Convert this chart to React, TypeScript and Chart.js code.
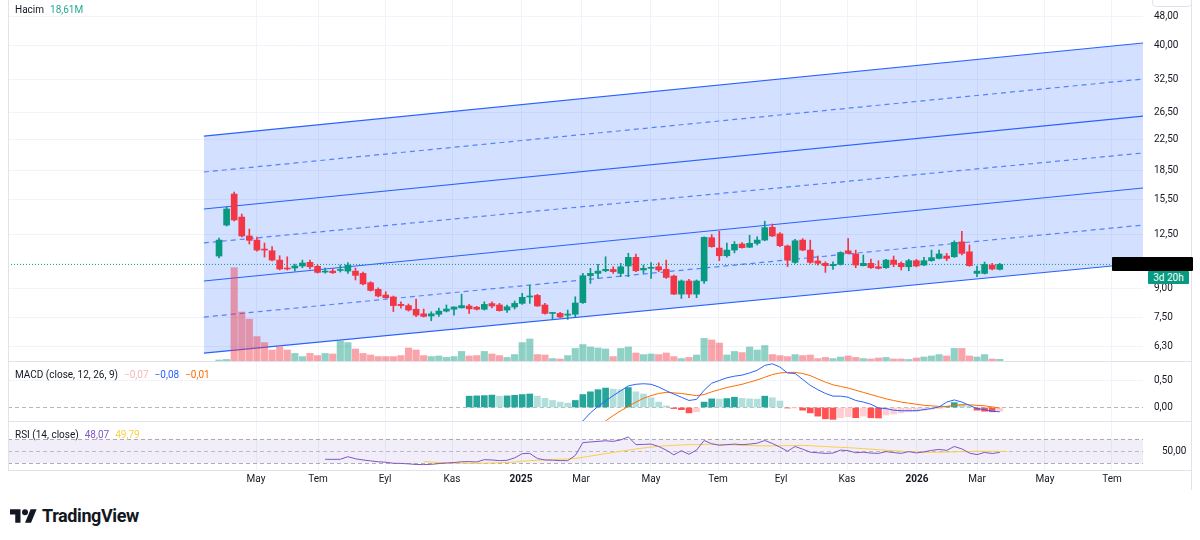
import React, { useEffect, useRef } from "react";
import { Chart, registerables } from "chart.js";

Chart.register(...registerables);

const FONT = "Roboto, 'Liberation Sans', Arial, sans-serif";
const TEXT = "#131722";
const UP = "#089981";
const DOWN = "#F23645";

// Weekly candles, index 0 = first bar (spring 2024)
const opens = [10.96,13.26,16.05,13.93,12.40,12.09,11.44,11.32,10.69,10.18,
10.18,10.31,10.54,10.29,9.93,9.99,10.03,9.99,9.99,9.85,
9.30,8.93,8.62,8.52,8.14,8.08,7.90,7.68,7.58,7.66,
7.81,7.90,7.97,8.06,8.00,7.90,8.18,8.11,7.86,8.01,
8.19,8.52,8.60,8.11,7.70,7.70,7.62,7.66,8.23,9.71,
9.85,10.01,10.09,9.85,10.31,10.87,10.06,10.16,10.26,10.10,
9.69,8.67,9.40,8.67,9.40,12.27,11.51,10.98,11.37,11.80,
11.57,11.85,12.09,13.08,12.56,11.66,10.54,12.09,11.37,10.63,
10.48,10.33,10.41,11.32,11.10,10.33,10.48,10.26,10.20,10.69,
10.48,10.26,10.65,10.37,10.65,10.80,10.96,10.91,11.96,11.25,
9.85,9.85,10.37,10.10];
const highs = [12.24,14.82,16.25,14.19,12.94,12.32,11.87,11.61,10.98,10.91,
10.43,10.69,10.69,10.37,10.18,10.12,10.37,10.52,10.18,9.93,
9.36,9.01,8.80,8.57,8.27,8.16,8.41,7.91,7.78,7.96,
8.11,8.02,8.67,8.14,8.04,8.27,8.27,8.19,8.11,8.31,
8.71,9.17,8.66,8.19,7.73,7.75,7.86,8.53,9.85,10.16,
10.41,10.91,10.26,10.48,11.15,11.10,10.37,10.52,10.52,10.69,
9.75,9.46,9.50,9.46,12.34,12.51,12.76,11.87,11.98,11.90,
12.46,12.34,13.58,13.35,12.66,11.73,12.14,12.20,12.09,10.96,
10.58,10.58,11.25,12.20,11.37,11.03,10.76,10.65,10.74,10.96,
10.58,10.74,10.74,10.87,11.37,11.37,11.14,12.04,12.76,11.73,
10.31,10.56,10.48,10.48];
const lows = [10.83,13.18,13.60,12.32,11.80,11.30,10.89,10.63,10.06,10.06,
9.99,10.20,10.12,9.87,9.87,9.84,9.93,9.85,9.46,9.17,
8.83,8.52,8.45,7.79,7.95,7.81,7.55,7.53,7.36,7.56,
7.77,7.62,7.95,7.70,7.86,7.86,7.97,7.81,7.75,7.91,
8.14,8.19,8.04,7.66,7.44,7.50,7.42,7.55,8.19,9.26,
9.55,9.95,9.85,9.65,9.65,9.95,9.85,9.55,9.95,9.55,
8.65,8.44,8.48,8.48,9.26,11.57,10.65,10.89,11.17,11.50,
11.54,11.73,12.04,12.35,11.61,10.27,10.48,11.32,10.48,10.37,
9.91,10.10,10.37,11.10,10.20,10.31,10.15,10.12,10.16,10.26,
10.06,10.01,10.26,10.33,10.61,10.76,10.65,10.87,11.03,10.29,
9.65,9.81,10.06,10.06];
const closes = [12.09,14.64,13.68,12.40,12.07,11.37,11.37,10.69,10.12,10.12,
10.31,10.50,10.26,9.91,9.99,9.89,10.06,10.37,9.73,9.23,
8.87,8.57,8.48,8.08,8.08,7.86,7.62,7.56,7.68,7.81,
7.91,8.01,8.08,7.92,7.90,8.14,8.06,7.83,8.02,8.19,
8.50,8.57,8.06,7.70,7.71,7.53,7.66,8.21,9.71,9.85,
9.99,10.10,9.96,10.26,10.87,10.01,10.16,10.22,10.06,9.61,
8.67,9.40,8.67,9.40,12.30,11.61,10.98,11.37,11.78,11.54,
11.85,12.09,13.05,12.40,11.68,10.69,12.04,11.37,10.54,10.48,
10.33,10.41,11.20,11.14,10.37,10.48,10.20,10.16,10.69,10.41,
10.26,10.65,10.31,10.65,10.85,11.10,10.80,11.92,11.14,10.33,
9.99,10.41,10.12,10.41];
// Volume in millions
const volumes = [14,18,660,350,300,178,136,84,105,84,
60,38,60,45,60,56,147,136,91,60,
49,38,38,38,45,98,84,45,38,42,
32,38,74,42,45,74,56,45,32,52,
136,161,52,49,24,21,45,95,122,105,
98,91,38,95,105,63,52,56,52,63,
38,24,32,49,165,154,133,49,74,66,
105,84,115,52,45,38,52,45,49,24,
32,24,35,42,32,24,21,28,32,21,
21,18,28,35,42,52,42,95,95,42,
35,52,21,18.61];

// MACD (12, 26, 9)
const macdStart = 44;
const macdValues = [-0.55,-0.50,-0.44,-0.36,-0.25,-0.10,0.02,0.12,0.22,0.31,
0.40,0.43,0.44,0.43,0.38,0.31,0.25,0.19,0.13,0.15,
0.32,0.45,0.50,0.55,0.58,0.60,0.64,0.69,0.78,0.81,
0.75,0.64,0.63,0.52,0.41,0.33,0.26,0.21,0.21,0.19,
0.13,0.10,0.06,-0.01,-0.02,-0.05,-0.06,-0.06,-0.06,-0.04,
-0.02,0.01,0.10,0.14,0.10,0.04,-0.02,-0.04,-0.07,-0.08];
const signalStart = 46;
const signalValues = [-0.50,-0.47,-0.43,-0.38,-0.32,-0.25,-0.15,-0.06,0.02,0.10,
0.17,0.22,0.26,0.28,0.27,0.26,0.24,0.22,0.24,0.29,
0.33,0.37,0.40,0.43,0.47,0.51,0.56,0.61,0.64,0.65,
0.65,0.63,0.59,0.53,0.47,0.42,0.39,0.36,0.32,0.28,
0.24,0.20,0.16,0.13,0.10,0.08,0.06,0.04,0.03,0.02,
0.02,0.04,0.05,0.05,0.04,0.03,0.01,-0.01];
const histStart = 33;
const histValues = [0.21,0.215,0.22,0.23,0.21,0.215,0.225,0.24,0.25,0.21,
0.17,0.13,0.10,0.08,0.13,0.24,0.29,0.33,0.36,0.34,
0.33,0.37,0.29,0.25,0.18,0.10,0.03,-0.02,-0.04,-0.10,
-0.08,0.10,0.16,0.155,0.165,0.19,0.17,0.16,0.155,0.21,
0.18,0.12,-0.01,-0.005,-0.05,-0.10,-0.16,-0.21,-0.22,-0.19,
-0.17,-0.19,-0.16,-0.19,-0.195,-0.14,-0.12,-0.10,-0.08,-0.07,
-0.05,-0.03,-0.02,0.02,0.09,0.06,0.02,-0.05,-0.07,-0.08,
-0.07];

// RSI (14) and its moving average
const rsiStart = 14;
const rsiValues = [36.7,36.5,36.7,41,37.5,35.5,34,32.5,31.7,30,
29.8,29,28,27.8,28.2,29.5,30.5,31.2,32.5,32.8,
32.2,36,35.5,34.4,35,39,46,46.5,38,35.5,
35.2,34.4,34.4,43,64.4,65.5,66.5,67.5,66.5,69,
74,61,61.5,62,58,52,44,51,45,52,
68,62.5,60,61,62,61,62,63.5,68,63,
57,50,58,53.5,48.5,47.5,46.5,47,52,51,
47.5,48.5,47,46.5,49.5,47.8,46.5,49.5,47.2,49,
51.5,53,51.5,58,54,47,44.5,48,46.3,48.07];
const rsiMaStart = 27;
const rsiMaValues = [32.8,32,31.3,30.5,30.2,30,30,30,30.2,30.5,
31,31.5,32,33.5,34.2,35,35.8,36.3,36.8,37.2,
38,40,42,44,46,48,50,52,53.8,55.5,
57,58.2,59.2,59.8,60.5,61,61.2,61.5,61.8,61.5,
61,60.5,60,59.5,59.2,59,59,59.2,59.4,59.6,
59.8,59.3,58.5,58,57.2,56.7,56,55.2,54.4,53.6,
52.6,51.8,51,50,49.3,48.9,48.5,48.3,48.4,48.7,
49,49.4,49.6,50,49.9,49.9,49.8,49.79];

// Price channel (left edge / right edge values)
const channelX = [-2, 121.9];
const channelStartValues = [22.93, 18.38, 14.64, 11.88, 9.40, 7.53, 6.03];
const channelEndValues = [40.65, 32.57, 25.94, 20.66, 16.66, 13.26, 10.50];
const channelDashed = [false, true, false, true, false, true, false];

// Axes
const priceTicks = [6.3, 7.5, 9, 12.5, 15.5, 18.5, 22.5, 26.5, 32.5, 40, 48];
const macdTicks = [0, 0.5];
const rsiTicks = [50];
const monthTickPos = [4.88, 13.06, 21.9, 30.74, 39.84, 47.76, 56.99, 65.83, 74.14, 82.85, 92.08, 100.0, 108.97, 117.81];
const monthTickLabels = ["May", "Tem", "Eyl", "Kas", "2025", "Mar", "May", "Tem", "Eyl", "Kas", "2026", "Mar", "May", "Tem"];

const X_MIN = -27.84;
const X_MAX = 121.9;
const AXIS_W = 57;

const fmt = (v: number) => {
  const s = Math.abs(v).toFixed(2).replace(".", ",");
  return v < 0 ? "\u2212" + s : s;
};

const refLinesPlugin = {
  id: "refLines",
  beforeDatasetsDraw(chart: any, _args: any, opts: any) {
    const y = chart.scales.y;
    const { left, right } = chart.chartArea;
    const ctx = chart.ctx;
    ctx.save();
    if (opts && opts.band) {
      const t = y.getPixelForValue(opts.band.from);
      const b = y.getPixelForValue(opts.band.to);
      ctx.fillStyle = opts.band.color;
      ctx.fillRect(left, Math.min(t, b), right - left, Math.abs(b - t));
    }
    ((opts && opts.lines) || []).forEach((l: any) => {
      const py = Math.round(y.getPixelForValue(l.value)) + 0.5;
      ctx.strokeStyle = l.color;
      ctx.lineWidth = 1;
      ctx.setLineDash(l.dash);
      ctx.beginPath();
      ctx.moveTo(left, py);
      ctx.lineTo(right, py);
      ctx.stroke();
    });
    ctx.restore();
  },
};

const xAxis = (showLabels: boolean) => ({
  type: "linear",
  min: X_MIN,
  max: X_MAX,
  offset: false,
  afterBuildTicks: (scale: any) => {
    scale.ticks = monthTickPos.map((v) => ({ value: v }));
  },
  afterFit: (scale: any) => {
    scale.height = showLabels ? 20 : 0;
    scale.paddingLeft = 0;
    scale.paddingRight = 0;
  },
  grid: { color: "#f0f3fa", drawTicks: false, offset: false },
  border: { display: false },
  ticks: {
    display: showLabels,
    autoSkip: false,
    maxRotation: 0,
    minRotation: 0,
    padding: 3,
    color: TEXT,
    font: (ctx: any) => ({
      family: FONT,
      size: 10,
      weight: /^\d{4}$/.test(monthTickLabels[ctx.index] || "") ? "bold" : "normal",
    }),
    callback: (_v: any, i: number) => monthTickLabels[i],
  },
});

const yAxisBase = (ticks: number[]) => ({
  position: "right",
  beginAtZero: false,
  afterBuildTicks: (scale: any) => {
    scale.ticks = ticks.map((v) => ({ value: v }));
  },
  afterFit: (scale: any) => {
    scale.width = AXIS_W;
    scale.paddingTop = 0;
    scale.paddingBottom = 0;
  },
  border: { display: false },
  ticks: {
    padding: 11,
    color: TEXT,
    font: { family: FONT, size: 10 },
    callback: (v: any) => fmt(Number(v)),
  },
});

const baseOptions = {
  animation: false,
  responsive: false,
  maintainAspectRatio: false,
  events: [],
  layout: { padding: { left: 8, right: 0, top: 0, bottom: 0 } },
};

function buildMainConfig() {
  const n = closes.length;
  const isUp = (i: number) => closes[i] >= opens[i];
  const channelSets = channelStartValues.map((sv, k) => ({
    type: "line",
    data: [
      { x: channelX[0], y: sv },
      { x: channelX[1], y: channelEndValues[k] },
    ],
    borderColor: channelDashed[k] ? "rgba(41,98,255,0.75)" : "#2962FF",
    borderWidth: 1.2,
    borderDash: channelDashed[k] ? [5, 4] : [],
    pointRadius: 0,
    tension: 0,
    fill: k === 0 ? 6 : false,
    backgroundColor: "rgba(41,98,255,0.2)",
    yAxisID: "y",
    order: 20 + k,
  }));
  const last = closes[n - 1];
  return {
    type: "bar",
    data: {
      datasets: [
        ...channelSets,
        {
          type: "line",
          data: [
            { x: X_MIN, y: last },
            { x: X_MAX, y: last },
          ],
          borderColor: UP,
          borderWidth: 1,
          borderDash: [1, 2],
          pointRadius: 0,
          yAxisID: "y",
          order: 6,
        },
        {
          type: "bar",
          data: volumes.map((v, i) => ({ x: i, y: v })),
          backgroundColor: volumes.map((_, i) => (isUp(i) ? "rgba(8,153,129,0.45)" : "rgba(242,54,69,0.45)")),
          barThickness: 6.5,
          grouped: false,
          yAxisID: "yv",
          order: 8,
        },
        {
          type: "bar",
          data: closes.map((_, i) => ({ x: i, y: [lows[i], highs[i]] })),
          backgroundColor: closes.map((_, i) => (isUp(i) ? UP : DOWN)),
          barThickness: 1,
          grouped: false,
          yAxisID: "y",
          order: 2,
        },
        {
          type: "bar",
          data: closes.map((c, i) => ({ x: i, y: [Math.min(opens[i], c), Math.max(opens[i], c)] })),
          backgroundColor: closes.map((_, i) => (isUp(i) ? UP : DOWN)),
          barThickness: 6,
          minBarLength: 1,
          grouped: false,
          yAxisID: "y",
          order: 1,
        },
      ],
    },
    options: {
      ...baseOptions,
      plugins: { legend: { display: false }, tooltip: { enabled: false } },
      scales: {
        x: xAxis(false),
        y: {
          ...yAxisBase(priceTicks),
          type: "logarithmic",
          min: 5.71,
          max: 52.97,
          grid: { color: "#f0f3fa", drawTicks: false },
        },
        yv: { type: "linear", display: false, min: 0, max: 2534, position: "left" },
      },
    },
  };
}

function buildMacdConfig() {
  const histColors = histValues.map((v, k) => {
    const prev = k > 0 ? histValues[k - 1] : v;
    if (v >= 0) return v >= prev ? "#26A69A" : "#B2DFDB";
    return v < prev ? "#FF5252" : "#FFCDD2";
  });
  return {
    type: "bar",
    data: {
      datasets: [
        {
          type: "line",
          data: macdValues.map((v, k) => ({ x: macdStart + k, y: v })),
          borderColor: "#2962FF",
          borderWidth: 1,
          pointRadius: 0,
          tension: 0,
          order: 1,
        },
        {
          type: "line",
          data: signalValues.map((v, k) => ({ x: signalStart + k, y: v })),
          borderColor: "#FF6D00",
          borderWidth: 1,
          pointRadius: 0,
          tension: 0,
          order: 2,
        },
        {
          type: "bar",
          data: histValues.map((v, k) => ({ x: histStart + k, y: v })),
          backgroundColor: histColors,
          barThickness: 6,
          grouped: false,
          order: 3,
        },
      ],
    },
    options: {
      ...baseOptions,
      plugins: {
        legend: { display: false },
        tooltip: { enabled: false },
        refLines: { lines: [{ value: 0, color: "rgba(120,123,134,0.55)", dash: [4, 3] }] },
      },
      scales: {
        x: xAxis(false),
        y: {
          ...yAxisBase(macdTicks),
          type: "linear",
          min: -0.269,
          max: 0.843,
          grid: {
            drawTicks: false,
            color: (ctx: any) => (ctx.tick && ctx.tick.value === 0 ? "rgba(0,0,0,0)" : "#f0f3fa"),
          },
        },
      },
    },
    plugins: [refLinesPlugin],
  };
}

function buildRsiConfig() {
  return {
    type: "line",
    data: {
      datasets: [
        {
          data: rsiValues.map((v, k) => ({ x: rsiStart + k, y: v })),
          borderColor: "#7E57C2",
          borderWidth: 1,
          pointRadius: 0,
          tension: 0,
          order: 1,
        },
        {
          data: rsiMaValues.map((v, k) => ({ x: rsiMaStart + k, y: v })),
          borderColor: "#F7D046",
          borderWidth: 1,
          pointRadius: 0,
          tension: 0,
          order: 2,
        },
      ],
    },
    options: {
      ...baseOptions,
      plugins: {
        legend: { display: false },
        tooltip: { enabled: false },
        refLines: {
          band: { from: 70, to: 30, color: "rgba(126,87,194,0.1)" },
          lines: [
            { value: 70, color: "rgba(120,123,134,0.6)", dash: [4, 3] },
            { value: 50, color: "rgba(120,123,134,0.45)", dash: [4, 3] },
            { value: 30, color: "rgba(120,123,134,0.6)", dash: [4, 3] },
          ],
        },
      },
      scales: {
        x: xAxis(true),
        y: {
          ...yAxisBase(rsiTicks),
          type: "linear",
          min: 18.8,
          max: 98.8,
          grid: { display: false },
        },
      },
    },
    plugins: [refLinesPlugin],
  };
}

const legendRow: React.CSSProperties = {
  position: "absolute",
  left: 15,
  fontSize: 10,
  lineHeight: "14px",
  color: TEXT,
  whiteSpace: "nowrap",
  display: "flex",
  gap: 6,
};

export default function App() {
  const mainRef = useRef<HTMLCanvasElement>(null);
  const macdRef = useRef<HTMLCanvasElement>(null);
  const rsiRef = useRef<HTMLCanvasElement>(null);

  useEffect(() => {
    const c1 = new Chart(mainRef.current as HTMLCanvasElement, buildMainConfig() as any);
    const c2 = new Chart(macdRef.current as HTMLCanvasElement, buildMacdConfig() as any);
    const c3 = new Chart(rsiRef.current as HTMLCanvasElement, buildRsiConfig() as any);
    return () => {
      c1.destroy();
      c2.destroy();
      c3.destroy();
    };
  }, []);

  const lastVol = volumes[volumes.length - 1];
  const lastHist = histValues[histValues.length - 1];
  const lastMacd = macdValues[macdValues.length - 1];
  const lastSignal = signalValues[signalValues.length - 1];
  const lastRsi = rsiValues[rsiValues.length - 1];
  const lastRsiMa = rsiMaValues[rsiMaValues.length - 1];

  const sep = (top: number): React.CSSProperties => ({
    position: "absolute",
    left: 8,
    width: 1183,
    top,
    height: 1,
    background: "#e0e3eb",
  });

  return (
    <div
      style={{
        position: "fixed",
        left: 0,
        top: 0,
        width: 1200,
        height: 540,
        background: "#ffffff",
        overflow: "hidden",
        fontFamily: FONT,
      }}
    >
      <canvas ref={mainRef} width={1200} height={362} style={{ position: "absolute", left: 0, top: 0 }} />
      <canvas ref={macdRef} width={1200} height={60} style={{ position: "absolute", left: 0, top: 362 }} />
      <canvas ref={rsiRef} width={1200} height={68} style={{ position: "absolute", left: 0, top: 422 }} />

      <div style={sep(361)} />
      <div style={sep(421)} />
      <div style={sep(470)} />
      <div style={{ position: "absolute", left: 8, top: 0, width: 1, height: 470, background: "#e0e3eb" }} />
      <div style={{ position: "absolute", left: 1191, top: 0, width: 1, height: 490, background: "#e0e3eb" }} />
      <div
        style={{
          position: "absolute",
          left: 1152,
          top: -18,
          width: 38,
          height: 23,
          border: "1px solid #e0e3eb",
          borderRadius: 4,
          background: "#fff",
        }}
      />

      <div style={{ ...legendRow, top: 3 }}>
        <span>Hacim</span>
        <span style={{ color: "#22ab94" }}>{fmt(lastVol)}M</span>
      </div>
      <div style={{ ...legendRow, top: 368 }}>
        <span>MACD (close, 12, 26, 9)</span>
        <span style={{ color: "#f8b4bc" }}>{fmt(lastHist)}</span>
        <span style={{ color: "#2962FF" }}>{fmt(lastMacd)}</span>
        <span style={{ color: "#FF6D00" }}>{fmt(lastSignal)}</span>
      </div>
      <div style={{ ...legendRow, top: 428 }}>
        <span>RSI (14, close)</span>
        <span style={{ color: "#7E57C2" }}>{fmt(lastRsi)}</span>
        <span style={{ color: "#F7D046" }}>{fmt(lastRsiMa)}</span>
      </div>

      <div
        style={{
          position: "absolute",
          left: 1112,
          top: 257,
          width: 81,
          height: 14,
          background: "#000000",
          borderRadius: 1,
        }}
      />
      <div
        style={{
          position: "absolute",
          left: 1148,
          top: 271,
          width: 41,
          height: 13,
          background: UP,
          color: "#ffffff",
          fontSize: 10,
          lineHeight: "13px",
          textAlign: "center",
          borderRadius: 1,
        }}
      >
        3d 20h
      </div>

      <div style={{ position: "absolute", left: 10, top: 506, display: "flex", alignItems: "center", gap: 5 }}>
        <svg width="27" height="14" viewBox="0 4 36 18">
          <path d="M14 22H7V11H0V4h14v18zM28 22h-8l7.5-18h8L28 22z" fill={TEXT} />
          <circle cx="20" cy="8" r="4" fill={TEXT} />
        </svg>
        <span style={{ fontWeight: 700, fontSize: 18, letterSpacing: -0.4, color: TEXT, lineHeight: "19px" }}>
          TradingView
        </span>
      </div>
    </div>
  );
}
